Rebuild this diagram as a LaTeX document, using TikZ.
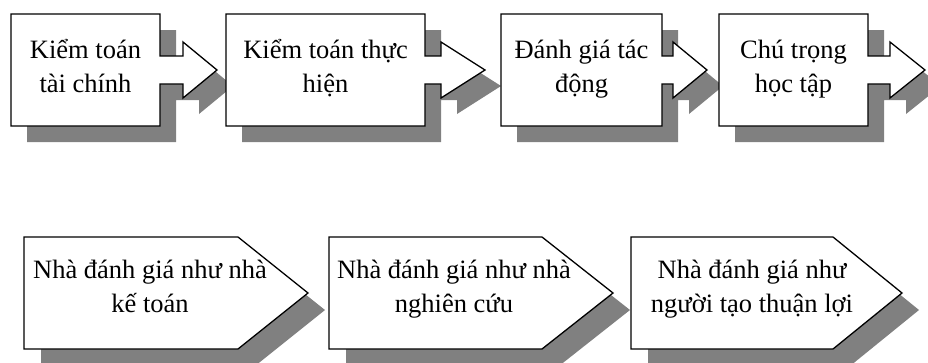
\documentclass[tikz,border=0pt]{standalone}
\usepackage{fontspec}
\setmainfont{Liberation Serif}
\definecolor{shade}{HTML}{808080}
\newcommand\TopArrowPath[4]{(#1,14) -- (#2,14) -- (#2,56) -- (#3,56) -- (#3,42) -- (#4,70) -- (#3,98) -- (#3,84) -- (#2,84) -- (#2,126) -- (#1,126) -- cycle}
\newcommand\PentPath[3]{(#1,237) -- (#2,237) -- (#3,293) -- (#2,349) -- (#1,349) -- cycle}
\tikzset{
  shapeline/.style={draw=black, line width=1.3pt, fill=white, line join=miter},
  shadowfill/.style={fill=shade, draw=none},
  lbl/.style={font=\fontsize{26.5}{34.2}\selectfont, anchor=base, inner sep=0pt, text=black}
}
\begin{document}
\begin{tikzpicture}[x=1pt,y=-1pt]
\useasboundingbox (0,0) rectangle (928,362);
\clip (0,0) rectangle (928,362);
% top row
\begin{scope}[shift={(16,16)}]
  \fill[shadowfill] \TopArrowPath{11}{160}{183}{217};
\end{scope}
\draw[shapeline] \TopArrowPath{11}{160}{183}{217};
\node[lbl] (t1) at (85.5,58.3) {\begin{tabular}[t]{@{}c@{}}Kiểm toán\\tài chính\end{tabular}};

\begin{scope}[shift={(16,16)}]
  \fill[shadowfill] \TopArrowPath{226}{425}{441}{485};
\end{scope}
\draw[shapeline] \TopArrowPath{226}{425}{441}{485};
\node[lbl] (t2) at (325.5,58.3) {\begin{tabular}[t]{@{}c@{}}Kiểm toán thực\\hiện\end{tabular}};

\begin{scope}[shift={(16,16)}]
  \fill[shadowfill] \TopArrowPath{501}{662}{673}{707};
\end{scope}
\draw[shapeline] \TopArrowPath{501}{662}{673}{707};
\node[lbl] (t3) at (581.5,58.3) {\begin{tabular}[t]{@{}c@{}}Đánh giá tác\\động\end{tabular}};

\begin{scope}[shift={(16,16)}]
  \fill[shadowfill] \TopArrowPath{719}{868}{890}{925};
\end{scope}
\draw[shapeline] \TopArrowPath{719}{868}{890}{925};
\node[lbl] (t4) at (793.5,58.3) {\begin{tabular}[t]{@{}c@{}}Chú trọng\\học tập\end{tabular}};

% bottom row
\begin{scope}[shift={(17,17)}]
  \fill[shadowfill] \PentPath{24}{238}{308};
\end{scope}
\draw[shapeline] \PentPath{24}{238}{308};
\node[lbl] (b1) at (150,278.3) {\begin{tabular}[t]{@{}c@{}}Nhà đánh giá như nhà\\kế toán\end{tabular}};

\begin{scope}[shift={(17,17)}]
  \fill[shadowfill] \PentPath{329}{542}{613};
\end{scope}
\draw[shapeline] \PentPath{329}{542}{613};
\node[lbl] (b2) at (454,278.3) {\begin{tabular}[t]{@{}c@{}}Nhà đánh giá như nhà\\nghiên cứu\end{tabular}};

\begin{scope}[shift={(17,17)}]
  \fill[shadowfill] \PentPath{631}{833}{902};
\end{scope}
\draw[shapeline] \PentPath{631}{833}{902};
\node[lbl] (b3) at (752,278.3) {\begin{tabular}[t]{@{}c@{}}Nhà đánh giá như\\người tạo thuận lợi\end{tabular}};
\end{tikzpicture}
\end{document}
